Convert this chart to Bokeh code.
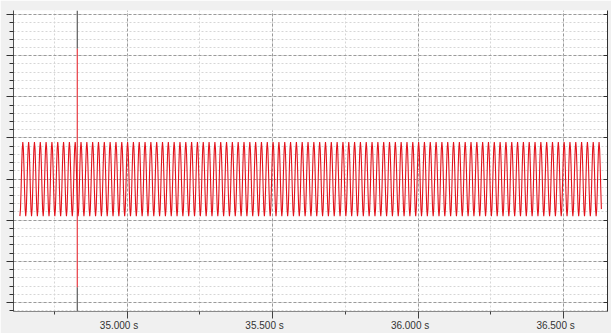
import numpy as np
from bokeh.plotting import figure
from bokeh.models import (Range1d, SingleIntervalTicker, FixedTicker, LinearAxis)
from bokeh.embed import file_html
from bokeh.resources import INLINE

# --- recorded channel -------------------------------------------------------
sample_start = 34.632          # s, first sample
sample_period = 0.002          # s, 500 Hz acquisition
cycle_count = 100              # 50 Hz mains cycles in the record
one_cycle = [-0.90, -0.73, -0.28, 0.28, 0.73, 0.90, 0.73, 0.28, -0.28, -0.73]

# --- cursor -----------------------------------------------------------------
cursor_time = 34.829
cursor_red_top = 3.17
cursor_red_bottom = -2.63

# --- time axis labels -------------------------------------------------------
tick_times = [35.0, 35.5, 36.0, 36.5]
tick_labels = ["35.000 s", "35.500 s", "36.000 s", "36.500 s"]

samples = np.tile(one_cycle, cycle_count)
times = sample_start + sample_period * np.arange(len(samples))

t_lo, t_hi = 34.610, 36.651
v_lo, v_hi = -3.22, 4.10
label_shift = 0.0274   # labels sit a little left of their tick

p = figure(width=611, height=333, output_backend="svg", toolbar_location=None,
           x_range=Range1d(t_lo, t_hi), y_range=Range1d(v_lo, v_hi),
           min_border_left=13, min_border_right=2, min_border_top=10,
           min_border_bottom=22, background_fill_color="white",
           border_fill_color="#f0f0f0", outline_line_color=None)
p.extra_x_ranges = {"labels": Range1d(t_lo + label_shift, t_hi + label_shift)}

# x axis (ticks only)
xa = p.xaxis[0]
xa.ticker = SingleIntervalTicker(interval=0.5, num_minor_ticks=2)
xa.axis_line_color = "#8a8a8a"
xa.major_tick_line_color = "#404040"
xa.minor_tick_line_color = "#404040"
xa.major_tick_out = 7
xa.major_tick_in = 0
xa.minor_tick_out = 3
xa.minor_tick_in = 0
xa.major_label_text_color = None
xa.major_label_standoff = 0

# time labels
la = LinearAxis(x_range_name="labels", ticker=FixedTicker(ticks=tick_times),
                major_label_overrides=dict(zip(tick_times, tick_labels)),
                axis_line_color=None, major_tick_line_color=None,
                minor_tick_line_color=None, major_tick_out=0, major_tick_in=0,
                major_label_standoff=1, major_label_text_font="Liberation Sans",
                major_label_text_font_size="10px",
                major_label_text_color="#333333")
p.add_layout(la, "below")

# y axis
ya = p.yaxis[0]
ya.ticker = SingleIntervalTicker(interval=1, num_minor_ticks=5)
ya.axis_line_color = "#505050"
ya.major_tick_line_color = "#303030"
ya.minor_tick_line_color = "#303030"
ya.major_tick_out = 7
ya.major_tick_in = 0
ya.minor_tick_out = 4
ya.minor_tick_in = 0
ya.major_label_text_color = None
ya.major_label_standoff = 0

# right-hand scale edge
ra = LinearAxis(ticker=SingleIntervalTicker(interval=1, num_minor_ticks=5),
                axis_line_color="#303030", major_tick_line_color="#303030",
                minor_tick_line_color=None, major_tick_out=0, major_tick_in=4,
                major_label_text_color=None, major_label_standoff=0)
p.add_layout(ra, "right")

# grids
for g in (p.xgrid[0], p.ygrid[0]):
    g.grid_line_color = "#9a9a9a"
    g.grid_line_dash = "3 2"
    g.grid_line_width = 1
    g.minor_grid_line_color = "#d6d6d6"
    g.minor_grid_line_dash = "2 2"

# signal trace
p.line(times, samples, line_color="#e3121b", line_width=1.1)

# cursor: dark ends, red across the trace
p.segment(x0=[cursor_time, cursor_time], y0=[v_lo, cursor_red_top],
          x1=[cursor_time, cursor_time], y1=[cursor_red_bottom, v_hi],
          line_color="#3a3a3a", line_width=1)
p.segment(x0=[cursor_time], y0=[cursor_red_bottom], x1=[cursor_time],
          y1=[cursor_red_top], line_color="#e3121b", line_width=1)

open("out.html", "w").write(file_html(p, INLINE))
